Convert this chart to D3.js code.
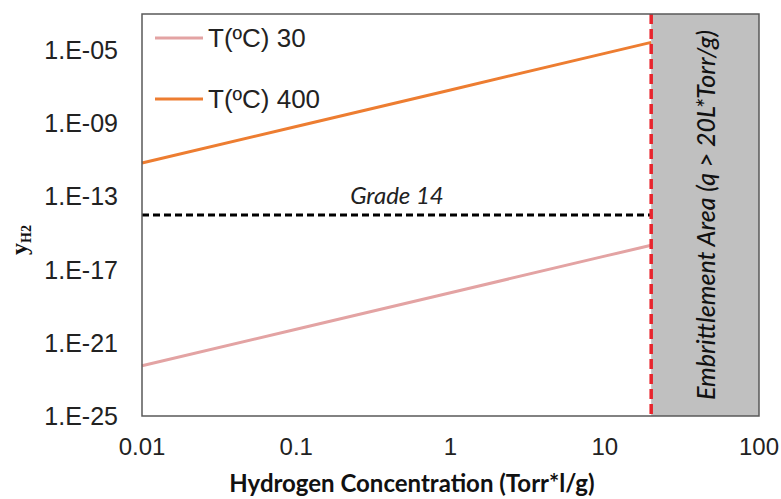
<!DOCTYPE html>
<html>
<head>
<meta charset="utf-8">
<script src="https://cdn.jsdelivr.net/npm/d3@7"></script>
<style>
  body { margin: 0; background: #fff; }
  svg { display: block; }
</style>
</head>
<body>
<svg id="chart" width="781" height="499"></svg>
<script>
// data (log-log)
const concentration = [0.01, 0.1, 1, 10, 20];
const yH2At30 = [5.6e-23, 5.6e-21, 5.6e-19, 5.6e-17, 2.2e-16];
const yH2At400 = [7.0e-12, 7.0e-10, 7.0e-8, 7.0e-6, 2.8e-5];
const seriesNames = ["T(ºC) 30", "T(ºC) 400"];
const seriesColors = ["#e3a3a3", "#ed7d31"];
const grade14 = 1e-14;
const embrittlementLimit = 20;
const xTicks = [0.01, 0.1, 1, 10, 100];
const yTicks = [1e-5, 1e-9, 1e-13, 1e-17, 1e-21, 1e-25];

const margin = { left: 142, top: 14, right: 22, bottom: 83 };
const width = 781, height = 499;

const svg = d3.select("#chart");

const x = d3.scaleLog()
    .domain([0.01, 100])
    .range([margin.left, width - margin.right]);

const y = d3.scaleLog()
    .domain([1e-25, 1e-3])
    .range([height - margin.bottom, margin.top]);

// zona de fragilizacao (cinza)
svg.append("rect")
    .attr("x", x(embrittlementLimit))
    .attr("y", y(1e-3))
    .attr("width", x(100) - x(embrittlementLimit))
    .attr("height", y(1e-25) - y(1e-3))
    .attr("fill", "#c0c0c0");

svg.append("text")
    .attr("transform", `translate(${(x(embrittlementLimit) + x(100)) / 2 + 10},${(y(1e-3) + y(1e-25)) / 2}) rotate(-90)`)
    .attr("text-anchor", "middle")
    .style("font-family", "Lato, 'Open Sans', sans-serif")
    .style("font-style", "italic")
    .style("font-weight", "500")
    .style("font-size", "25px")
    .attr("fill", "#111")
    .text("Embrittlement Area (q > 20L*Torr/g)");

// linha Grade 14
svg.append("line")
    .attr("x1", x(0.01))
    .attr("x2", x(embrittlementLimit))
    .attr("y1", y(grade14))
    .attr("y2", y(grade14))
    .attr("stroke", "#000")
    .attr("stroke-width", 3)
    .attr("stroke-dasharray", "7,4");

svg.append("text")
    .attr("x", 397)
    .attr("y", y(grade14) - 11)
    .attr("text-anchor", "middle")
    .style("font-family", "Lato, 'Open Sans', sans-serif")
    .style("font-style", "italic")
    .style("font-size", "24px")
    .attr("fill", "#222")
    .text("Grade 14");

// series
const line = d3.line()
    .x(d => x(d[0]))
    .y(d => y(d[1]));

[yH2At30, yH2At400].forEach((vals, i) => {
    svg.append("path")
        .datum(concentration.map((c, k) => [c, vals[k]]))
        .attr("d", line)
        .attr("fill", "none")
        .attr("stroke", seriesColors[i])
        .attr("stroke-width", 3);
});

// limite vermelho
svg.append("line")
    .attr("x1", x(embrittlementLimit))
    .attr("x2", x(embrittlementLimit))
    .attr("y1", y(1e-3))
    .attr("y2", y(1e-25))
    .attr("stroke", "#e8242c")
    .attr("stroke-width", 3.5)
    .attr("stroke-dasharray", "10,5");

// moldura
svg.append("rect")
    .attr("x", x(0.01))
    .attr("y", y(1e-3))
    .attr("width", x(100) - x(0.01))
    .attr("height", y(1e-25) - y(1e-3))
    .attr("fill", "none")
    .attr("stroke", "#595959")
    .attr("stroke-width", 1.5);

// tick labels
svg.append("g")
    .selectAll("text")
    .data(yTicks)
    .join("text")
    .attr("x", 118)
    .attr("y", d => y(d))
    .attr("dy", "0.35em")
    .attr("text-anchor", "end")
    .text(d => "1.E-" + String(Math.abs(Math.round(Math.log10(d)))).padStart(2, "0"))
    .style("font-family", "Arial, 'Liberation Sans', sans-serif")
    .style("font-size", "25px")
    .attr("fill", "#222");

svg.append("g")
    .selectAll("text")
    .data(xTicks)
    .join("text")
    .attr("x", d => x(d))
    .attr("y", 455)
    .attr("text-anchor", "middle")
    .text(d => d3.format("~g")(d))
    .style("font-family", "Arial, 'Liberation Sans', sans-serif")
    .style("font-size", "24px")
    .attr("fill", "#222");

// legend
const legend = svg.append("g")
    .selectAll("g")
    .data(seriesNames)
    .join("g")
    .attr("transform", (d, i) => `translate(155,${38 + i * 61})`);

legend.append("line")
    .attr("x1", 0)
    .attr("x2", 48)
    .attr("stroke", (d, i) => seriesColors[i])
    .attr("stroke-width", 3);

legend.append("text")
    .attr("x", 53)
    .attr("dy", "0.35em")
    .text(d => d)
    .style("font-family", "Arial, 'Liberation Sans', sans-serif")
    .style("font-size", "26px")
    .attr("fill", "#222");

// axis titles
svg.append("text")
    .attr("x", 412)
    .attr("y", 492)
    .attr("text-anchor", "middle")
    .style("font-family", "Lato, 'Open Sans', sans-serif")
    .style("font-weight", "700")
    .style("font-size", "24px")
    .attr("fill", "#111")
    .text("Hydrogen Concentration (Torr*l/g)");

const yTitle = svg.append("text")
    .attr("transform", "translate(27,240) rotate(-90)")
    .attr("text-anchor", "middle")
    .style("font-family", "'Liberation Serif', 'DejaVu Serif', serif")
    .style("font-weight", "700")
    .attr("fill", "#111");
yTitle.append("tspan").style("font-size", "24px").text("y");
yTitle.append("tspan").style("font-size", "14px").attr("dy", 4).text("H2");
</script>
</body>
</html>
